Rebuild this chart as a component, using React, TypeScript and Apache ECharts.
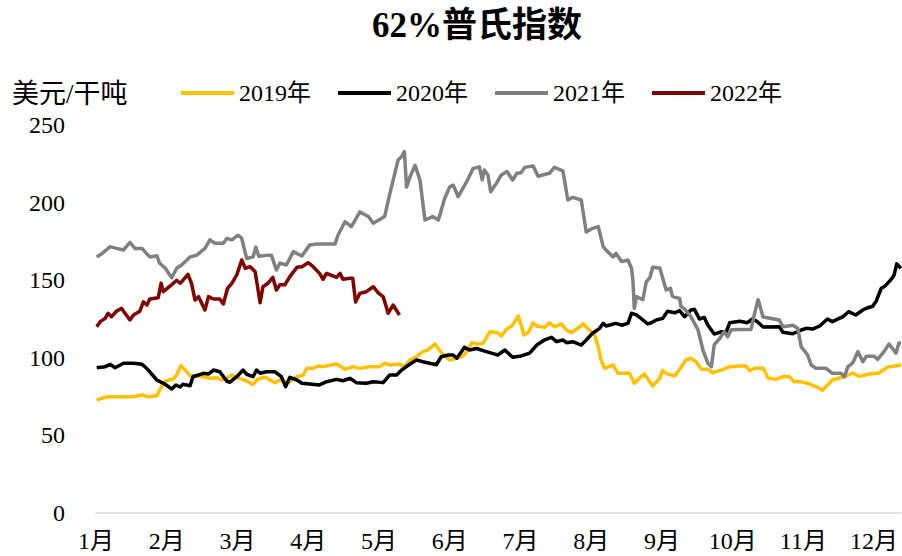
import React, { useEffect, useRef } from 'react';
import * as echarts from 'echarts';

// x = month position (0 = start of Jan), y = USD per dry tonne
const monthLabels = ['1月', '2月', '3月', '4月', '5月', '6月', '7月', '8月', '9月', '10月', '11月', '12月'];
const seriesNames = ['2019年', '2020年', '2021年', '2022年'];
const seriesColors = ['#FFC000', '#000000', '#808080', '#800000'];

const d2019: [number, number][] = [
  [0.01, 72.8], [0.08, 73.9], [0.17, 74.9], [0.39, 74.9], [0.53, 74.9], [0.65, 76], [0.74, 74.9], [0.86, 75.6],
  [0.9, 79.3], [0.98, 85], [1.09, 86.3], [1.14, 88.9], [1.2, 94.9], [1.26, 92.1], [1.33, 88.5], [1.42, 88.5],
  [1.52, 87.8], [1.61, 86.8], [1.71, 87.1], [1.78, 85.7], [1.85, 86.8], [1.92, 88.9], [1.99, 87.2], [2.06, 86.3],
  [2.15, 84.6], [2.22, 82.9], [2.29, 86.3], [2.39, 87.5], [2.53, 84], [2.6, 85.7], [2.72, 84], [2.84, 87.8],
  [2.93, 88.9], [2.98, 93.2], [3.07, 93.2], [3.14, 94.7], [3.21, 94.3], [3.4, 96], [3.52, 92.6], [3.63, 94.3],
  [3.73, 93.2], [3.87, 94.3], [4.01, 94.3], [4.08, 96.5], [4.15, 95.4], [4.29, 96], [4.36, 94.3], [4.44, 98.6],
  [4.53, 100.7], [4.62, 104], [4.69, 105], [4.79, 108.9], [4.91, 101.8], [5.0, 98.6], [5.1, 99.7], [5.19, 101.2],
  [5.24, 104], [5.31, 109.7], [5.4, 108.9], [5.47, 109.3], [5.57, 116.8], [5.68, 116.2], [5.73, 114], [5.8, 118.3],
  [5.89, 121], [5.97, 127], [6.0, 122.6], [6.05, 114.7], [6.11, 116.2], [6.18, 122.6], [6.23, 120.5], [6.34, 119.6],
  [6.41, 122.6], [6.48, 120], [6.58, 121.8], [6.65, 117.9], [6.72, 116.2], [6.81, 119], [6.89, 121.8], [6.95, 119],
  [7.05, 114.7], [7.1, 107], [7.14, 98.6], [7.19, 93.2], [7.31, 95.4], [7.38, 90], [7.45, 90], [7.54, 90],
  [7.61, 83.6], [7.68, 86.8], [7.75, 89.6], [7.82, 85.2], [7.87, 81.8], [7.97, 86.8], [8.01, 91.7], [8.06, 90],
  [8.18, 88.3], [8.25, 92.6], [8.34, 98.6], [8.41, 99.7], [8.48, 97.5], [8.56, 92.6], [8.65, 92.6], [8.72, 90.4],
  [8.84, 92.1], [8.96, 94.3], [9.1, 94.7], [9.19, 94.7], [9.24, 91.7], [9.31, 93.2], [9.43, 93.5], [9.5, 87],
  [9.61, 86.1], [9.71, 87.8], [9.8, 88], [9.87, 84.6], [9.97, 84.6], [10.09, 83.1], [10.2, 81], [10.27, 79],
  [10.34, 82.5], [10.41, 85.7], [10.58, 87.8], [10.7, 90.2], [10.79, 88], [10.93, 89.6], [11.07, 90.2], [11.19, 94],
  [11.29, 94.7], [11.38, 95.4],
];

const d2020: [number, number][] = [
  [0.01, 93.6], [0.13, 94.3], [0.2, 95.8], [0.27, 93.6], [0.39, 96.5], [0.53, 96.5], [0.65, 95.8], [0.69, 94.3],
  [0.76, 91], [0.86, 85.7], [0.98, 82.9], [1.07, 79.9], [1.13, 82.5], [1.19, 81.2], [1.23, 82.9], [1.33, 82],
  [1.37, 87.8], [1.52, 90], [1.59, 89.5], [1.66, 92.1], [1.75, 91], [1.85, 85], [1.89, 84.2], [1.99, 87.8],
  [2.08, 92.1], [2.13, 89.4], [2.22, 87.8], [2.27, 92.1], [2.32, 90], [2.41, 91], [2.53, 91], [2.62, 87.8],
  [2.68, 81.4], [2.74, 87.4], [2.84, 85.7], [2.91, 83.6], [3.02, 83.1], [3.16, 82.5], [3.26, 84.6], [3.4, 86.1],
  [3.49, 85.2], [3.59, 86.8], [3.68, 84], [3.82, 83.6], [3.92, 84.6], [4.06, 84], [4.15, 88.9], [4.25, 88.9],
  [4.32, 92.1], [4.44, 96], [4.53, 98.6], [4.62, 97.5], [4.72, 96.5], [4.81, 95.5], [4.88, 100.7], [4.98, 101.8],
  [5.05, 101.8], [5.1, 99.7], [5.21, 106.8], [5.28, 105], [5.38, 106], [5.47, 104.6], [5.59, 103], [5.68, 101.8],
  [5.78, 105], [5.89, 100.3], [6.01, 101.2], [6.13, 103], [6.23, 108.2], [6.34, 111.5], [6.44, 113.2], [6.51, 110.4],
  [6.6, 111.5], [6.65, 109.7], [6.74, 110.4], [6.86, 108.2], [6.93, 111.5], [7.02, 115.8], [7.12, 119], [7.17, 122.2],
  [7.21, 120.5], [7.35, 122.2], [7.43, 121], [7.52, 122.2], [7.57, 128.7], [7.64, 127.6], [7.73, 124.4], [7.8, 121.8],
  [7.85, 122.6], [7.92, 124.4], [8.01, 125.4], [8.08, 130], [8.18, 129], [8.25, 130.4], [8.32, 126.5], [8.41, 130.8],
  [8.46, 131.2], [8.53, 125], [8.6, 126], [8.65, 121], [8.74, 115.3], [8.84, 116.8], [8.91, 116.8], [8.96, 122.6],
  [9.1, 123.5], [9.21, 122.6], [9.28, 125], [9.35, 123.3], [9.43, 119.8], [9.66, 120], [9.71, 116.5], [9.85, 115.5],
  [9.97, 117.9], [10.04, 119], [10.13, 118.5], [10.23, 120.5], [10.34, 125], [10.41, 123.3], [10.56, 126.5], [10.64, 129.7],
  [10.74, 127.6], [10.84, 130.8], [10.89, 131.9], [10.98, 133.2], [11.03, 136.6], [11.1, 144.8], [11.14, 145.8], [11.17, 147],
  [11.24, 150.5], [11.28, 153], [11.32, 160.5], [11.38, 157.7],
];

const d2021: [number, number][] = [
  [0.01, 165], [0.08, 167], [0.2, 171.6], [0.29, 170.5], [0.39, 169.5], [0.48, 174.4], [0.55, 170.5], [0.65, 170.5],
  [0.69, 168.4], [0.76, 165], [0.86, 165.8], [0.9, 160.9], [0.98, 157.7], [1.07, 151.6], [1.14, 157.7], [1.21, 159.8],
  [1.33, 165], [1.42, 166], [1.54, 170.5], [1.61, 176], [1.68, 173.8], [1.8, 173.8], [1.85, 177], [1.92, 176],
  [2.01, 179], [2.06, 177], [2.13, 164], [2.22, 165], [2.26, 171.3], [2.3, 165.5], [2.41, 166], [2.48, 166],
  [2.55, 156.6], [2.6, 161], [2.69, 159.8], [2.79, 168.4], [2.91, 165.6], [3.02, 172.7], [3.12, 173.3], [3.38, 173.3],
  [3.42, 179], [3.52, 187.7], [3.61, 184.5], [3.73, 194], [3.85, 191], [3.92, 186.7], [4.08, 191], [4.15, 205],
  [4.27, 227.4], [4.32, 229.6], [4.36, 232.8], [4.39, 210], [4.44, 216.7], [4.51, 224], [4.58, 214.6], [4.65, 188.8],
  [4.76, 191], [4.84, 188.8], [4.93, 202.8], [5.0, 210], [5.05, 211.3], [5.12, 203.8], [5.24, 213.5], [5.33, 222],
  [5.42, 223], [5.46, 214.6], [5.49, 221], [5.54, 217.8], [5.58, 207], [5.66, 212.4], [5.73, 217.8], [5.81, 220],
  [5.89, 214.6], [5.95, 218.9], [6.01, 219.3], [6.06, 222.7], [6.18, 223.6], [6.25, 217], [6.41, 218.9], [6.48, 222.7],
  [6.6, 220.5], [6.67, 201.7], [6.74, 203.4], [6.86, 201.7], [6.93, 181], [7.02, 183.4], [7.1, 184.5], [7.17, 171.6],
  [7.21, 169.5], [7.31, 165], [7.35, 167.3], [7.43, 162], [7.52, 163], [7.57, 157.7], [7.59, 150], [7.61, 131.8],
  [7.64, 139.4], [7.73, 137.4], [7.78, 149], [7.83, 151.6], [7.87, 158.3], [7.97, 157.8], [8.06, 143.7], [8.12, 144.8],
  [8.15, 139.4], [8.25, 138.3], [8.27, 133], [8.32, 131.5], [8.41, 126.5], [8.51, 118], [8.58, 105], [8.65, 96.5],
  [8.7, 94.3], [8.74, 108.5], [8.81, 112], [8.88, 116.8], [8.93, 113.6], [8.98, 118], [9.1, 118.2], [9.26, 118.3],
  [9.31, 128.7], [9.36, 137.5], [9.43, 126.3], [9.66, 124.4], [9.71, 120], [9.85, 121], [9.92, 119], [9.97, 107],
  [10.06, 101.8], [10.11, 95.4], [10.18, 93.2], [10.32, 93.2], [10.41, 90], [10.53, 90], [10.58, 87.8], [10.63, 94.3],
  [10.7, 96.8], [10.77, 104], [10.84, 97.5], [10.89, 101], [11.0, 101], [11.05, 99], [11.14, 104], [11.21, 108.9],
  [11.26, 106], [11.31, 103], [11.35, 109.5], [11.38, 109.5],
];

const d2022: [number, number][] = [
  [0.01, 120], [0.06, 123.3], [0.13, 125.4], [0.17, 128.7], [0.22, 126.5], [0.29, 130], [0.36, 131.9], [0.41, 128.7],
  [0.48, 124.4], [0.53, 127.6], [0.62, 130], [0.67, 136], [0.72, 134], [0.76, 137.9], [0.88, 138.7], [0.92, 148],
  [0.95, 142.6], [1.05, 146.3], [1.14, 150], [1.19, 148], [1.23, 150], [1.3, 153.8], [1.35, 148], [1.4, 137.2],
  [1.45, 139.4], [1.54, 130.8], [1.59, 139.4], [1.66, 137.9], [1.75, 137.9], [1.8, 134.7], [1.86, 144.8], [1.92, 148],
  [1.99, 153.4], [2.06, 163], [2.11, 157.7], [2.18, 158.7], [2.25, 155.5], [2.32, 135.5], [2.36, 145.8], [2.43, 148],
  [2.5, 151.8], [2.55, 143.7], [2.6, 147], [2.67, 147], [2.74, 152.3], [2.84, 158.3], [2.91, 158.7], [3.0, 161.3],
  [3.07, 158.7], [3.16, 154.4], [3.21, 150.6], [3.26, 154.4], [3.4, 151.8], [3.45, 154.4], [3.49, 150.6], [3.59, 151.2],
  [3.63, 151.2], [3.67, 136], [3.73, 141.5], [3.82, 142.6], [3.92, 145.8], [3.99, 141.9], [4.06, 139.4], [4.13, 128.7],
  [4.2, 134], [4.29, 127.6],
];

const seriesData = [d2019, d2020, d2021, d2022];
const xMax = 11.38;
const yMin = 0;
const yMax = 250;
const yStep = 50;
const yUnit = '美元/干吨';
const titleText = '62%普氏指数';

const FONT = "'Liberation Serif', 'Noto Sans CJK SC', serif";

export default function App() {
  const ref = useRef<HTMLDivElement>(null);
  useEffect(() => {
    if (!ref.current) return;
    const chart = echarts.init(ref.current, null, { renderer: 'svg' });
    chart.setOption({
      animation: false,
      backgroundColor: '#ffffff',
      textStyle: { fontFamily: FONT, color: '#000' },
      title: {
        text: titleText,
        left: 477,
        top: 8,
        padding: 0,
        textAlign: 'center',
        textStyle: { fontFamily: FONT, fontSize: 35, fontWeight: 'bold', color: '#000' },
      },
      legend: {
        left: 181,
        top: 81,
        padding: 0,
        icon: 'rect',
        itemWidth: 53,
        itemHeight: 4,
        itemGap: 27,
        textStyle: { fontFamily: FONT, fontSize: 24, color: '#000' },
        data: seriesNames,
      },
      graphic: [
        {
          type: 'text',
          left: 12,
          top: 80,
          style: { text: yUnit, fontSize: 27, fontFamily: FONT, fill: '#000' },
        },
      ],
      grid: { left: 96, right: 1, top: 125, bottom: 43, containLabel: false },
      xAxis: {
        type: 'value',
        min: 0,
        max: xMax,
        interval: 1,
        axisLine: { show: true, lineStyle: { color: '#d9d9d9', width: 1.5 } },
        axisTick: { show: false },
        splitLine: { show: false },
        axisLabel: {
          margin: 16,
          fontSize: 24,
          fontFamily: FONT,
          color: '#000',
          showMaxLabel: false,
          formatter: (v: number) => (Number.isInteger(v) && v < monthLabels.length ? monthLabels[v] : ''),
        },
      },
      yAxis: {
        type: 'value',
        min: yMin,
        max: yMax,
        interval: yStep,
        axisLine: { show: false },
        axisTick: { show: false },
        splitLine: { show: false },
        axisLabel: { margin: 31, fontSize: 24, fontFamily: FONT, color: '#000' },
      },
      series: seriesNames.map((name, i) => ({
        name,
        type: 'line',
        data: seriesData[i],
        showSymbol: false,
        symbol: 'none',
        color: seriesColors[i],
        itemStyle: { color: seriesColors[i] },
        lineStyle: { width: 3.5, color: seriesColors[i], join: 'round' },
      })),
    });
    return () => chart.dispose();
  }, []);
  return (
    <div
      ref={ref}
      style={{ position: 'fixed', left: 0, top: 0, width: 902, height: 556, background: '#fff' }}
    />
  );
}
